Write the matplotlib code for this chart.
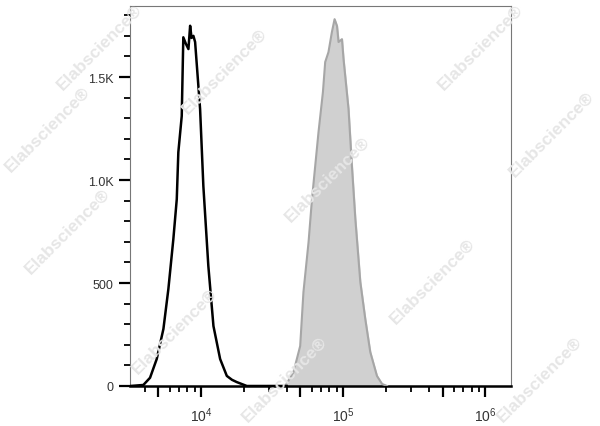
import numpy as np
import matplotlib
matplotlib.use('Agg')
import matplotlib.pyplot as plt
from matplotlib.ticker import FixedLocator, FuncFormatter, NullFormatter

plt.rcParams['font.family'] = ['Liberation Sans', 'DejaVu Sans']
plt.rcParams['mathtext.fontset'] = 'custom'
plt.rcParams['mathtext.rm'] = 'Liberation Sans'
plt.rcParams['mathtext.it'] = 'Liberation Sans'

# 음성 대조군 (검정 선) - 형광 세기 / 세포 수
ctrl_x = [3162, 3926, 4375, 4875, 5433, 5888, 6383, 6745, 6918, 7311, 7499,
          7834, 8147, 8375, 8570, 8831, 9078, 9840, 10375, 11246, 12218,
          13614, 15171, 16500, 17824, 20989, 40000]
ctrl_y = [0, 5, 40, 131, 277, 471, 714, 907, 1135, 1311, 1693,
          1660, 1636, 1749, 1690, 1700, 1670, 1345, 971, 583, 291,
          131, 49, 30, 19, 0, 0]

# 염색 샘플 (회색 채움)
stain_x = [29648, 39084, 44668, 49774, 52481, 57016, 60256, 66988, 71945,
           74645, 78705, 83176, 86896, 90365, 92683, 97949, 100462, 108893,
           115080, 121619, 131826, 142889, 154882, 172584, 187498, 203236]
stain_y = [0, 0, 68, 194, 456, 699, 907, 1233, 1427,
           1573, 1621, 1718, 1781, 1748, 1670, 1684, 1587, 1345,
           1068, 811, 505, 325, 165, 49, 10, 0]

y_ticks = [0, 500, 1000, 1500]
y_labels = ['0', '500', '1.0K', '1.5K']
x_ticks = [1e4, 1e5, 1e6]

fig = plt.figure(figsize=(6, 4.27), dpi=100)
ax = fig.add_axes([130/600, 40/427, 381/600, 380/427])

ax.fill_between(stain_x, stain_y, 0, color='#d0d0d0', zorder=2)
ax.plot(stain_x, stain_y, color='#a6a6a6', lw=1.5, zorder=3)
ax.plot(ctrl_x, ctrl_y, color='black', lw=1.8, zorder=4)

ax.set_xscale('log')
ax.set_xlim(10**3.5, 10**6.18)
ax.set_ylim(0, 1845)

# x축 눈금: 10^n 크게, 5x10^n 중간, 나머지 작게
major_x = [5e3, 1e4, 5e4, 1e5, 5e5, 1e6]
ax.xaxis.set_major_locator(FixedLocator(major_x))
ax.xaxis.set_major_formatter(FuncFormatter(
    lambda v, p: r'$10^{%d}$' % round(np.log10(v)) if v in x_ticks else ''))
minor_x = [m * 10**e for e in range(3, 6) for m in [2, 3, 4, 6, 7, 8, 9]]
ax.xaxis.set_minor_locator(FixedLocator(minor_x))
ax.xaxis.set_minor_formatter(NullFormatter())

ax.yaxis.set_major_locator(FixedLocator(y_ticks))
ax.set_yticklabels(y_labels)
ax.yaxis.set_minor_locator(FixedLocator([v for v in range(100, 1900, 100) if v % 500]))

ax.tick_params(which='major', length=8, width=1.6, color='black',
               labelsize=9, labelcolor='#333333', pad=4)
ax.tick_params(which='minor', length=4.5, width=1.3, color='black')
for t, v in zip(ax.xaxis.get_major_ticks(), major_x):
    if v not in x_ticks:
        t.tick1line.set_markersize(6)
ax.tick_params(axis='x', which='major', labelsize=10, pad=6)

for s in ['top', 'right', 'left']:
    ax.spines[s].set_color('#777777')
    ax.spines[s].set_linewidth(0.8)
ax.spines['bottom'].set_color('black')
ax.spines['bottom'].set_linewidth(1.8)

# 워터마크 (그림 안쪽으로)
wm = [(100, 48), (48, 130), (225, 72), (68, 232), (328, 180), (175, 332),
      (481, 48), (433, 282), (552, 135), (285, 380), (540, 380)]
for px, py in wm:
    fig.text(px/600, 1 - py/427, 'Elabscience\u00ae', fontsize=12.5,
             color='#e6e6e6', rotation=45, ha='center', va='center',
             fontweight='bold', zorder=0.5)

fig.savefig('out.png', dpi=100)
